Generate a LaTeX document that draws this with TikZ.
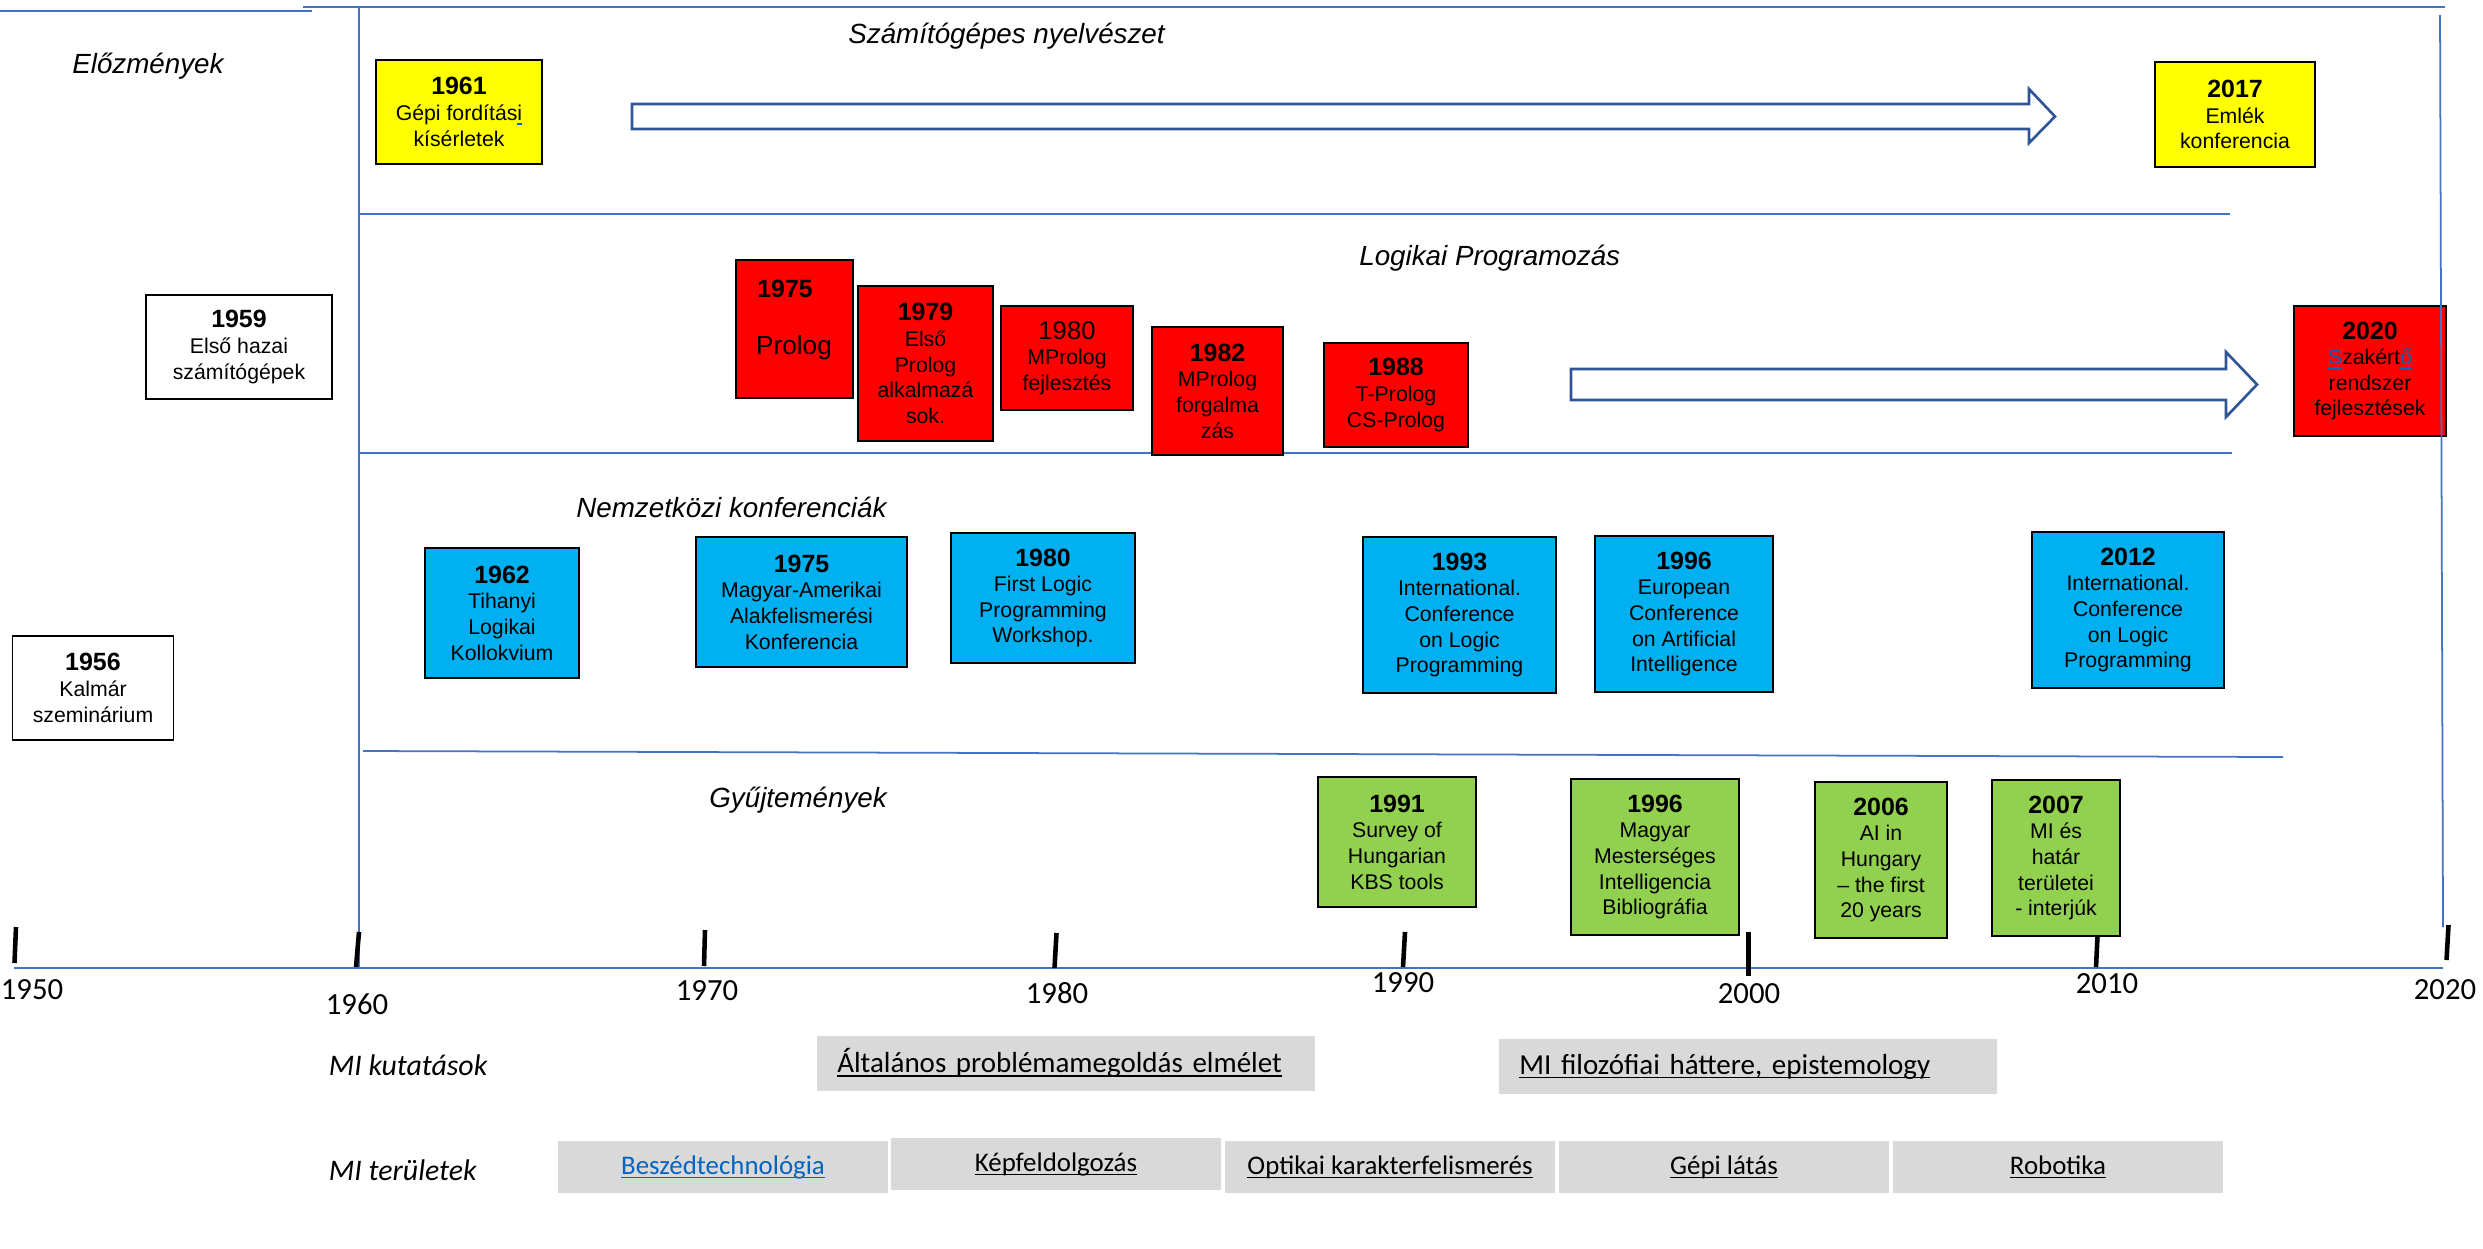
\documentclass[tikz,border=0pt]{standalone}
\usepackage{fontspec}
\setmainfont{Liberation Sans}
\newfontfamily\calibri{Carlito}

\definecolor{lineblue}{HTML}{4472C4}
\definecolor{arrowblue}{HTML}{2F5597}
\definecolor{boxyellow}{HTML}{FFFF00}
\definecolor{boxred}{HTML}{FF0000}
\definecolor{boxcyan}{HTML}{00B0F0}
\definecolor{boxgreen}{HTML}{92D050}
\definecolor{boxgray}{HTML}{D9D9D9}
\definecolor{linkblue}{HTML}{0563C1}

\newsavebox\ulbox
\newcommand\ulined[2][black]{\sbox\ulbox{#2}\rlap{\textcolor{#1}{\rule[-2.4pt]{\wd\ulbox}{0.9pt}}}\usebox\ulbox}
\newcommand\yearfont{\fontsize{14.2}{17}\selectfont\bfseries}
\newcommand\linkpart[1]{\ulined[linkblue]{\textcolor{linkblue}{#1}}}

\begin{document}
\begin{tikzpicture}[x=0.02cm, y=-0.02cm,
    evbox/.style={draw=black, line width=1pt, inner sep=0pt, align=center,
                  font=\fontsize{12.1}{14.6}\selectfont},
    title/.style={anchor=west, inner sep=0pt, font=\fontsize{15.8}{19}\selectfont\itshape},
    rowtitle/.style={anchor=west, inner sep=0pt, font=\calibri\fontsize{17}{20}\selectfont\itshape},
    yearlabel/.style={inner sep=0pt, font=\calibri\fontsize{17.5}{20}\selectfont},
    researchbox/.style={fill=boxgray, inner xsep=0.4cm, inner ysep=0pt, text width=9.15cm,
                        align=left, minimum height=1.1cm, font=\calibri\fontsize{16.5}{19}\selectfont},
    areabox/.style={fill=boxgray, inner sep=0pt, minimum width=6.59cm, minimum height=1.04cm,
                    font=\calibri\fontsize{15.3}{18}\selectfont},
    sepline/.style={lineblue, line width=1pt},
    yeartick/.style={black, line width=2.6pt},
    blockarrow/.style={draw=arrowblue, line width=1.5pt, fill=white, line join=miter}]
    \useasboundingbox (0,0) rectangle (2483,1248);

    % frame and row separators
    \draw[sepline] (0,11) -- (312,11);
    \draw[sepline] (303,7) -- (2445,7);
    \draw[sepline] (359,7) -- (359,968);
    \draw[sepline] (359,214) -- (2230,214);
    \draw[sepline] (359,453) -- (2232,453);
    \draw[sepline] (363,751) -- (2283,757);
    \draw[sepline] (14,968) -- (2443,968);

    % row titles
    \node[title] (elozm) at (72,66) {Előzmények};
    \node[title] (nyelv) at (848,36) {Számítógépes nyelvészet};
    \node[title] (logprog) at (1359,258) {Logikai Programozás};
    \node[title] (konf) at (576,507) {Nemzetközi konferenciák};
    \node[title] (gyujt) at (709,800) {Gyűjtemények};

    % block arrows
    \draw[blockarrow] (632,104) -- (2029,104) -- (2029,89) -- (2055,116.5) -- (2029,143) -- (2029,129) -- (632,129) -- cycle;
    \draw[blockarrow] (1571,369) -- (2226,369) -- (2226,352) -- (2257,384.5) -- (2226,417) -- (2226,400) -- (1571,400) -- cycle;

    % early events
    \node[evbox, minimum width=3.22cm, minimum height=2.08cm] (e1956) at (93,688) {{\yearfont 1956}\\Kalmár\\szeminárium};
    \node[evbox, minimum width=3.72cm, minimum height=2.08cm] (e1959) at (239,347) {{\yearfont 1959}\\Első hazai\\számítógépek};

    % computational linguistics
    \node[evbox, fill=boxyellow, minimum width=3.32cm, minimum height=2.08cm] (y1961) at (459,112) {{\yearfont 1961}\\Gépi fordítás\ulined[linkblue]{i}\\kísérletek};
    \node[evbox, fill=boxyellow, minimum width=3.20cm, minimum height=2.10cm] (y2017) at (2235,114.5) {{\yearfont 2017}\\Emlék\\konferencia};

    % logic programming
    \node[evbox, fill=boxred, minimum width=2.34cm, minimum height=2.76cm] (p1975) at (794.5,329) {};
    \node[anchor=base, inner sep=0pt, font=\yearfont] (p1975y) at (785,297) {1975};
    \node[anchor=base, inner sep=0pt, font=\fontsize{14.9}{17}\selectfont] (p1975n) at (794,354) {Prolog};
    \node[evbox, fill=boxred, minimum width=2.70cm, minimum height=3.10cm] (p1979) at (925.5,363.5) {{\yearfont 1979}\\Első\\Prolog\\alkalmazá\\sok.};
    \node[evbox, fill=boxred, minimum width=2.64cm, minimum height=2.08cm] (p1980) at (1067,358) {{\fontsize{14.6}{17}\selectfont 1980}\\MProlog\\fejlesztés};
    \node[evbox, fill=boxred, minimum width=2.62cm, minimum height=2.56cm] (p1982) at (1217.5,391) {{\yearfont 1982}\\MProlog\\forgalma\\zás};
    \node[evbox, fill=boxred, minimum width=2.88cm, minimum height=2.08cm] (p1988) at (1396,395) {{\yearfont 1988}\\T-Prolog\\CS-Prolog};
    \node[evbox, fill=boxred, minimum width=3.04cm, minimum height=2.60cm] (p2020) at (2370,371) {{\yearfont 2020}\\\linkpart{S}zakért\linkpart{ő}\\rendszer\\fejlesztések};

    % international conferences
    \node[evbox, fill=boxcyan, minimum width=3.08cm, minimum height=2.60cm] (k1962) at (502,613) {{\yearfont 1962}\\Tihanyi\\Logikai\\Kollokvium};
    \node[evbox, fill=boxcyan, minimum width=4.22cm, minimum height=2.60cm] (k1975) at (801.5,602) {{\yearfont 1975}\\Magyar-Amerikai\\Alakfelismerési\\Konferencia};
    \node[evbox, fill=boxcyan, minimum width=3.68cm, minimum height=2.60cm] (k1980) at (1043,598) {{\yearfont 1980}\\First Logic\\Programming\\Workshop.};
    \node[evbox, fill=boxcyan, minimum width=3.86cm, minimum height=3.12cm] (k1993) at (1459.5,615) {{\yearfont 1993}\\International.\\Conference\\on Logic\\Programming};
    \node[evbox, fill=boxcyan, minimum width=3.57cm, minimum height=3.12cm] (k1996) at (1684,614) {{\yearfont 1996}\\European\\Conference\\on Artificial\\Intelligence};
    \node[evbox, fill=boxcyan, minimum width=3.84cm, minimum height=3.12cm] (k2012) at (2128,610) {{\yearfont 2012}\\International.\\Conference\\on Logic\\Programming};

    % collections
    \node[evbox, fill=boxgreen, minimum width=3.17cm, minimum height=2.60cm] (g1991) at (1397,842) {{\yearfont 1991}\\Survey of\\Hungarian\\KBS tools};
    \node[evbox, fill=boxgreen, minimum width=3.36cm, minimum height=3.12cm] (g1996) at (1655,857) {{\yearfont 1996}\\Magyar\\Mesterséges\\Intelligencia\\Bibliográfia};
    \node[evbox, fill=boxgreen, minimum width=2.63cm, minimum height=3.12cm] (g2006) at (1881,860) {{\yearfont 2006}\\AI in\\Hungary\\– the first\\20 years};
    \node[evbox, fill=boxgreen, minimum width=2.57cm, minimum height=3.12cm] (g2007) at (2056,858) {{\yearfont 2007}\\MI és\\határ\\területei\\- interjúk};

    % right border runs over the 2020 box
    \draw[sepline] (2440,15) -- (2443,927);

    % time axis
    \draw[yeartick] (16,927) -- (14.5,963);
    \draw[yeartick] (359,932) -- (356,967);
    \draw[yeartick] (705,930) -- (704,966);
    \draw[yeartick] (1056.5,933) -- (1054.5,968);
    \draw[yeartick] (1405,932) -- (1403,967);
    \draw[yeartick] (1748.5,932) -- (1748.5,976);
    \draw[yeartick] (2097.5,936) -- (2096,967);
    \draw[yeartick] (2448.5,925) -- (2446.5,960);
    \node[yearlabel] (t1950) at (32,990) {1950};
    \node[yearlabel] (t1960) at (357,1004) {1960};
    \node[yearlabel] (t1970) at (707,991) {1970};
    \node[yearlabel] (t1980) at (1057,993) {1980};
    \node[yearlabel] (t1990) at (1403,983) {1990};
    \node[yearlabel] (t2000) at (1749,994) {2000};
    \node[yearlabel] (t2010) at (2107,984) {2010};
    \node[yearlabel] (t2020) at (2445,990) {2020};

    % AI research and AI fields
    \node[rowtitle] (kutat) at (328.5,1065) {MI kutatások};
    \node[rowtitle] (terul) at (328.5,1170) {MI területek};
    \node[researchbox] (r1) at (1066,1063) {\ulined{Általános problémamegoldás elmélet}};
    \node[researchbox] (r2) at (1748,1066.5) {\ulined{MI filozófiai háttere, epistemology}};
    \node[areabox] (a1) at (723,1167) {\linkpart{Beszédtechnológia}};
    \node[areabox] (a2) at (1056,1164) {\ulined{Képfeldolgozás}};
    \node[areabox] (a3) at (1390,1167) {\ulined{Optikai karakterfelismerés}};
    \node[areabox] (a4) at (1724,1167) {\ulined{Gépi látás}};
    \node[areabox] (a5) at (2058,1167) {\ulined{Robotika}};
\end{tikzpicture}
\end{document}
